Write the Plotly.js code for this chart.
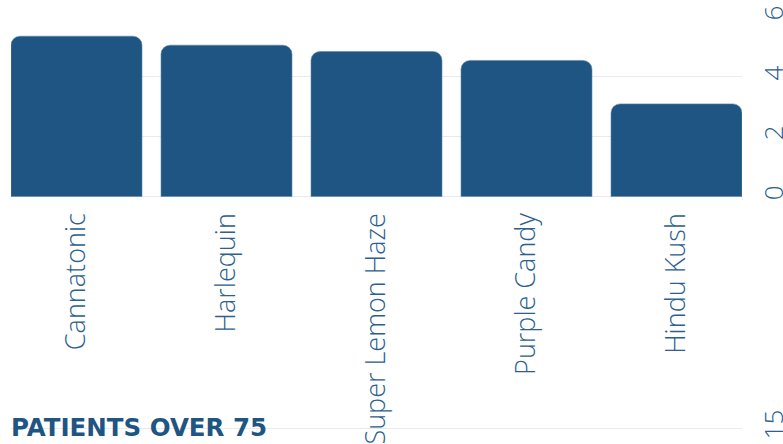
<!DOCTYPE html>
<html>
<head>
<meta charset="utf-8">
<script src="https://cdn.plot.ly/plotly-3.0.1.min.js"></script>
<style>html,body{margin:0;padding:0;background:#fff;overflow:hidden}#chart{width:783px;height:444px}</style>
</head>
<body>
<div id="chart"></div>
<script>
const strains = ["Cannatonic", "Harlequin", "Super Lemon Haze", "Purple Candy", "Hindu Kush"];
const patientCounts = [5.36, 5.06, 4.85, 4.55, 3.1];
const yTicks = [0, 2, 4, 6];
const nextChartTitle = "PATIENTS OVER 75";
const nextChartTopTick = [15];

const blue = "#1f5582";
const textBlue = "#2b6090";
const grid = "#e6eaee";

const trace = {
  type: "bar",
  x: strains,
  y: patientCounts,
  marker: {color: blue, line: {color: "#5f86a8", width: 0.6}},
  hoverinfo: "skip"
};
const ghost = {
  type: "scatter", mode: "markers",
  x: [0], y: [14.5], xaxis: "x2", yaxis: "y2",
  marker: {opacity: 0}, hoverinfo: "skip", showlegend: false
};

const layout = {
  width: 783, height: 444,
  margin: {l: 11, r: 41, t: 17, b: 0},
  paper_bgcolor: "#fff", plot_bgcolor: "#fff",
  showlegend: false,
  bargap: 0.1267,
  barcornerradius: 9,
  font: {family: "Open Sans", color: textBlue},
  xaxis: {
    domain: [0, 1], anchor: "y",
    range: [-0.4367, 4.4367],
    tickangle: -90, showgrid: false, showline: false, zeroline: false, ticks: "",
    tickfont: {family: "Open Sans", size: 27, weight: 300, color: textBlue},
    ticklabelstandoff: 10
  },
  yaxis: {
    domain: [0.579, 1], anchor: "x", side: "right",
    range: [0, 6], tickvals: yTicks, ticktext: yTicks.map(String),
    tickangle: -90, gridcolor: grid, gridwidth: 1,
    zeroline: true, zerolinecolor: grid, zerolinewidth: 1,
    showline: false, ticks: "",
    tickfont: {family: "Open Sans", size: 26, weight: 300, color: textBlue},
    ticklabelstandoff: 14
  },
  xaxis2: {domain: [0, 1], anchor: "y2", range: [-0.4367, 4.4367], visible: false},
  yaxis2: {
    domain: [0, 0.04], anchor: "x2", side: "right",
    range: [14, 15.1], tickvals: nextChartTopTick, ticktext: nextChartTopTick.map(String),
    tickangle: -90, gridcolor: grid, gridwidth: 1, zeroline: false, showline: false, ticks: "",
    tickfont: {family: "Open Sans", size: 26, weight: 300, color: textBlue},
    ticklabelstandoff: 14
  },
  annotations: [{
    text: "<b>" + nextChartTitle + "</b>",
    xref: "paper", yref: "paper", x: 0, y: 0.0375, xshift: -2,
    xanchor: "left", yanchor: "middle", showarrow: false,
    font: {family: "DejaVu Sans", size: 24.5, weight: 700, color: blue}
  }]
};

Plotly.newPlot("chart", [trace, ghost], layout, {displayModeBar: false, staticPlot: true});
</script>
</body>
</html>
